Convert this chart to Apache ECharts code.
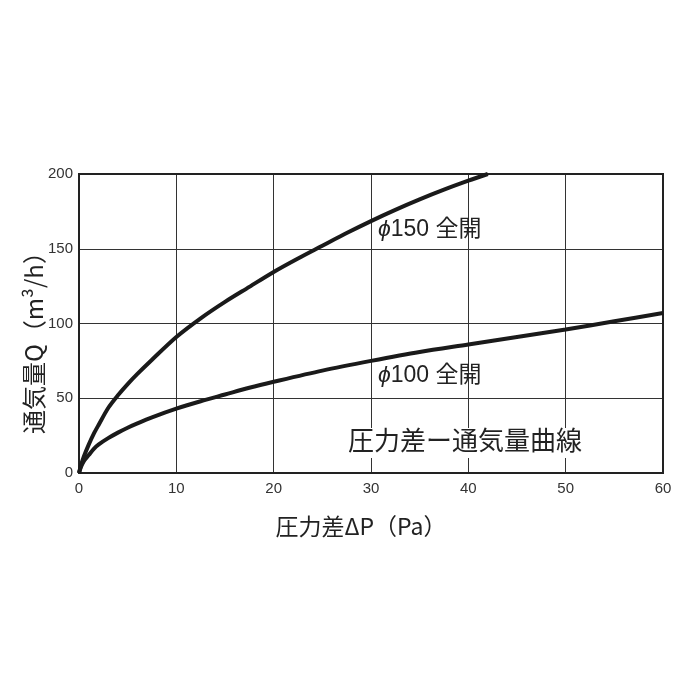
<!DOCTYPE html>
<html>
<head>
<meta charset="utf-8">
<script src="https://cdn.jsdelivr.net/npm/echarts@6/dist/echarts.min.js"></script>
<style>
  html, body { margin: 0; padding: 0; background: #fff; }
  #chart { width: 700px; height: 700px; }
</style>
</head>
<body>
<div id="chart"></div>
<script>
// values
const xTicks = [0, 10, 20, 30, 40, 50, 60];
const yTicks = [0, 50, 100, 150, 200];

const p150 = [0, 0.2, 0.5, 1, 1.5, 2, 3, 4, 5, 6, 7.5, 10, 12.5, 15, 17.5, 20, 22.5, 25, 27.5, 30, 32.5, 35, 37.5, 40, 42];
const q150 = [0, 5, 11, 19, 26, 32, 43.5, 52, 59.5, 66.3, 75.8, 91, 103.5, 114.5, 124.5, 134.5, 143.5, 152, 160.5, 168.5, 176, 183, 189.5, 195.5, 200];

const p100 = [0, 0.2, 0.5, 1, 1.5, 2, 3, 4, 5, 6, 7.5, 10, 12.5, 15, 17.5, 20, 25, 30, 35, 40, 45, 50, 55, 60];
const q100 = [0, 4, 8, 12, 16, 19, 23.3, 27, 30.3, 33.2, 37.2, 43, 48, 52.5, 57, 61, 68.5, 75, 81, 86, 91, 96, 101.5, 107];

const seriesNames = ['ϕ150 全開', 'ϕ100 全開'];
const chartTitle = '圧力差ー通気量曲線';
const xName = '圧力差ΔP（Pa）';
const yName = '通気量Q（m³/h）';

const font = '"Liberation Sans", "Noto Sans CJK JP", sans-serif';
const cjkFont = '"Noto Sans CJK JP", sans-serif';
const zip = (xs, ys) => xs.map((x, i) => [x, ys[i]]);

// series label with an italic phi in front
const curveLabel = (name, top) => ({
    type: 'text', left: 378, top: top, z: 10,
    style: {
        text: '{i|' + name.charAt(0) + '}' + name.slice(1),
        fontSize: 23, fill: '#222', fontFamily: font,
        rich: {i: {fontSize: 23, fontStyle: 'italic', fontFamily: font, fill: '#222'}}
    }
});

const chart = echarts.init(document.getElementById('chart'));
chart.setOption({
    backgroundColor: '#fff',
    animation: false,
    textStyle: {fontFamily: font},
    title: {
        text: chartTitle,
        left: 344,
        top: 428,
        padding: [2, 4],
        backgroundColor: '#fff',
        textStyle: {fontSize: 26, fontWeight: 'normal', color: '#222', fontFamily: font}
    },
    grid: {
        left: 79, right: 37, top: 174, bottom: 227,
        show: true, borderColor: '#222', borderWidth: 2, z: 3
    },
    xAxis: {
        type: 'value',
        min: xTicks[0], max: xTicks[xTicks.length - 1], interval: 10,
        axisLine: {show: false},
        axisTick: {show: false},
        axisLabel: {color: '#333', fontSize: 15, margin: 8, fontFamily: font},
        splitLine: {lineStyle: {color: '#333', width: 1}}
    },
    yAxis: {
        type: 'value',
        min: yTicks[0], max: yTicks[yTicks.length - 1], interval: 50,
        axisLine: {show: false},
        axisTick: {show: false},
        axisLabel: {color: '#333', fontSize: 15, margin: 6, fontFamily: font},
        splitLine: {lineStyle: {color: '#333', width: 1}}
    },
    graphic: [
        curveLabel(seriesNames[0], 218),
        curveLabel(seriesNames[1], 364),
        {type: 'text', x: 361, y: 526,
         style: {text: xName, fontSize: 23, fill: '#222', fontFamily: cjkFont,
                 align: 'center', verticalAlign: 'middle'}},
        {type: 'text', x: 34, y: 337, rotation: Math.PI / 2,
         style: {text: yName, fontSize: 24, fill: '#222', fontFamily: cjkFont,
                 align: 'center', verticalAlign: 'middle'}}
    ],
    series: [
        {
            name: seriesNames[0], type: 'line', smooth: 0.3, symbol: 'none',
            data: zip(p150, q150),
            lineStyle: {color: '#1a1a1a', width: 4}, z: 4
        },
        {
            name: seriesNames[1], type: 'line', smooth: 0.3, symbol: 'none',
            data: zip(p100, q100),
            lineStyle: {color: '#1a1a1a', width: 4}, z: 4
        }
    ]
});
</script>
</body>
</html>
